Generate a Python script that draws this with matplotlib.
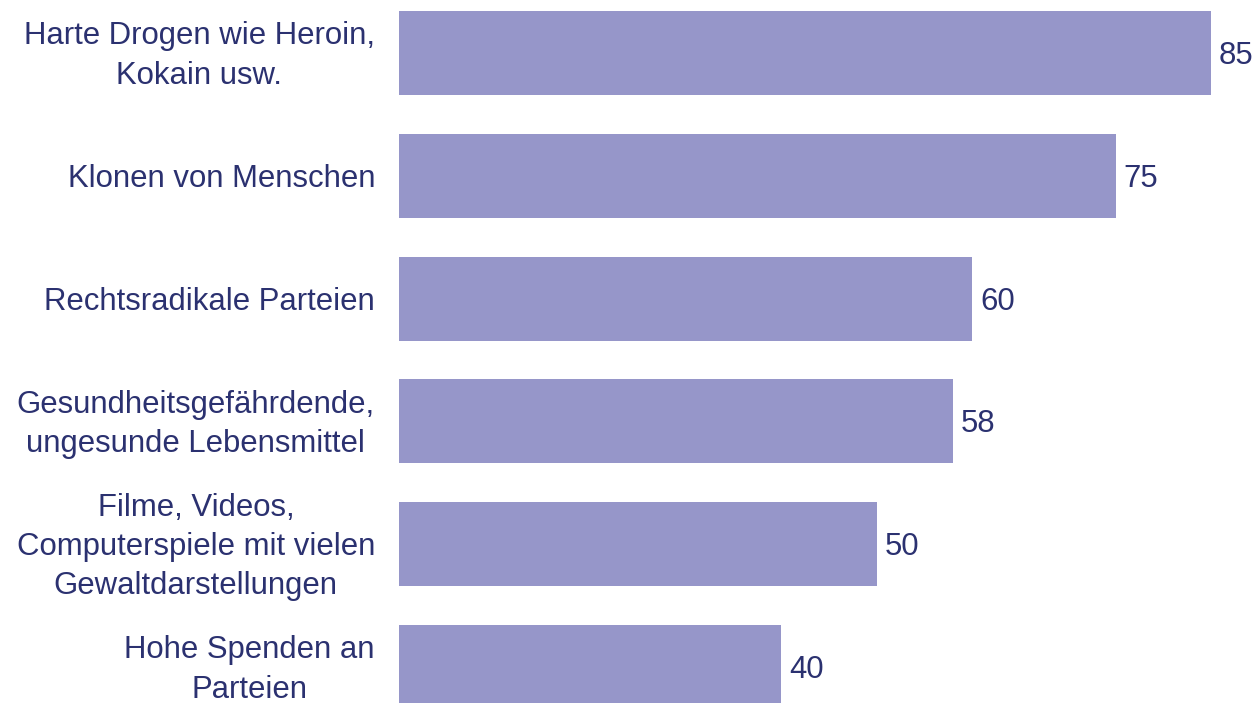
import matplotlib
matplotlib.use("Agg")
import matplotlib.pyplot as plt
from matplotlib.transforms import offset_copy

categories = [
    "Harte Drogen wie Heroin,\nKokain usw.",
    "Klonen von Menschen",
    "Rechtsradikale Parteien",
    "Gesundheitsgefährdende,\nungesunde Lebensmittel",
    "Filme, Videos,\nComputerspiele mit vielen\nGewaltdarstellungen",
    "Hohe Spenden an\nParteien",
]
values = [85, 75, 60, 58, 50, 40]

bar_color = "#9696C9"
text_color = "#2B3170"

plt.rcParams['font.family'] = ['Liberation Sans', 'DejaVu Sans']

fig = plt.figure(figsize=(12.56, 7.03), dpi=100)
ax = fig.add_axes([399/1256, 0, 1 - 399/1256, 1])

pos = list(range(len(values)))
ax.barh(pos, values, height=0.684, color=bar_color)
ax.set_ylim(5.293, -0.4316)
ax.set_xlim(0, 89.7)

for p, v in zip(pos, values):
    ax.annotate(f"{v}", xy=(v, p), xytext=(5.5, -7.9), textcoords="offset points",
                ha="left", va="baseline", fontsize=22.4, color=text_color)

label_tr = offset_copy(ax.transData, fig=fig, x=-24, y=-3, units="dots")
for p, lab in zip(pos, categories):
    ax.text(0, p, lab, transform=label_tr, ha="right", va="center",
            multialignment="center", linespacing=1.4, fontsize=22.4,
            color=text_color, clip_on=False)

ax.set_yticks([])
ax.set_xticks([])
for s in ax.spines.values():
    s.set_visible(False)

fig.savefig("out.png", dpi=100)
